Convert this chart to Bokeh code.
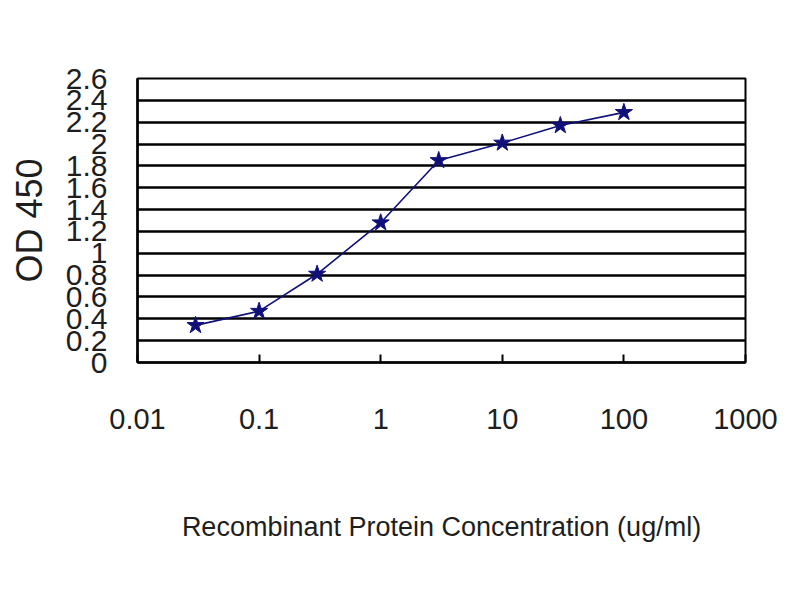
from bokeh.plotting import figure
from bokeh.models import FixedTicker, ColumnDataSource
from bokeh.embed import file_html
from bokeh.resources import INLINE

# data
concentration = [0.03, 0.1, 0.3, 1, 3, 10, 30, 100]
od450 = [0.34, 0.47, 0.81, 1.28, 1.85, 2.01, 2.17, 2.29]
x_ticks = [0.01, 0.1, 1, 10, 100, 1000]
x_tick_labels = ["0.01", "0.1", "1", "10", "100", "1000"]
y_ticks = [0, 0.2, 0.4, 0.6, 0.8, 1.0, 1.2, 1.4, 1.6, 1.8, 2.0, 2.2, 2.4, 2.6]
y_tick_labels = ["0", "0.2", "0.4", "0.6", "0.8", "1", "1.2", "1.4", "1.6", "1.8", "2", "2.2", "2.4", "2.6"]
x_title = "Recombinant Protein Concentration (ug/ml)"
y_title = "OD 450"

FONT = "Liberation Sans"
NAVY = "#10107a"
TEXT = "#1e1e1e"

p = figure(
    x_axis_type="log",
    x_range=(0.01, 1000),
    y_range=(0, 2.6),
    frame_width=608,
    frame_height=284,
    min_border_left=137,
    min_border_right=47,
    min_border_top=78,
    min_border_bottom=200,
    output_backend="svg",
    toolbar_location=None,
    background_fill_color="white",
    border_fill_color="white",
)

src = ColumnDataSource(dict(x=concentration, y=od450))
p.line("x", "y", source=src, line_color=NAVY, line_width=1.6)
p.scatter("x", "y", source=src, marker="star", size=18, fill_color=NAVY, line_color=NAVY)

# grid
p.xgrid.grid_line_color = None
p.ygrid.grid_line_color = "black"
p.ygrid.grid_line_width = 2.5
p.outline_line_color = "black"
p.outline_line_width = 2

# x axis
p.xaxis.ticker = FixedTicker(ticks=x_ticks)
p.xaxis.major_label_overrides = {t: l for t, l in zip(x_ticks, x_tick_labels)}
p.xaxis.major_label_text_font = FONT
p.xaxis.major_label_text_font_size = "29px"
p.xaxis.major_label_text_color = TEXT
p.xaxis.major_label_standoff = 46
p.xaxis.major_tick_in = 8
p.xaxis.major_tick_out = 0
p.xaxis.major_tick_line_width = 2
p.xaxis.minor_tick_line_color = None
p.xaxis.axis_line_width = 2.5
p.xaxis.axis_label = x_title
p.xaxis.axis_label_text_font = FONT
p.xaxis.axis_label_text_font_style = "normal"
p.xaxis.axis_label_text_font_size = "27px"
p.xaxis.axis_label_text_color = TEXT
p.xaxis.axis_label_standoff = 80

# y axis
p.yaxis.ticker = FixedTicker(ticks=y_ticks)
p.yaxis.major_label_overrides = {t: l for t, l in zip(y_ticks, y_tick_labels)}
p.yaxis.major_label_text_font = FONT
p.yaxis.major_label_text_font_size = "30px"
p.yaxis.major_label_text_color = TEXT
p.yaxis.major_label_standoff = 30
p.yaxis.major_tick_in = 0
p.yaxis.major_tick_out = 0
p.yaxis.minor_tick_line_color = None
p.yaxis.axis_line_width = 2.5
p.yaxis.axis_label = y_title
p.yaxis.axis_label_text_font = FONT
p.yaxis.axis_label_text_font_style = "normal"
p.yaxis.axis_label_text_font_size = "36px"
p.yaxis.axis_label_text_color = TEXT
p.yaxis.axis_label_standoff = 13

open("out.html", "w").write(file_html(p, INLINE))
